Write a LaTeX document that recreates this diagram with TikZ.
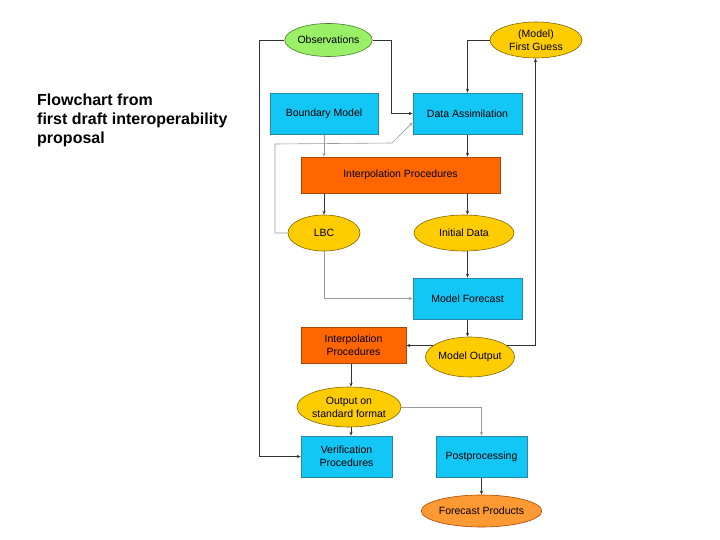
\documentclass[tikz,border=0pt]{standalone}
\usepackage{fontspec}
\setmainfont{Liberation Sans}
\usetikzlibrary{shapes.geometric,arrows.meta,backgrounds,calc}
\definecolor{cyanbox}{HTML}{12C6F5}
\definecolor{cyanedge}{HTML}{2A86A8}
\definecolor{orbox}{HTML}{FF6600}
\definecolor{oredge}{HTML}{A84800}
\definecolor{yelbox}{HTML}{FFCC00}
\definecolor{yeledge}{HTML}{806600}
\definecolor{grnbox}{HTML}{99F066}
\definecolor{grnedge}{HTML}{4A7A33}
\definecolor{ltor}{HTML}{FF9933}
\definecolor{dkline}{HTML}{333333}
\definecolor{gyline}{HTML}{9A9A9A}
\tikzset{
  lbl/.style={font=\fontsize{10.5}{13}\selectfont, align=center, inner sep=0pt},
  bluebox/.style={lbl, rectangle, fill=cyanbox, draw=cyanedge, line width=0.6pt},
  orangebox/.style={lbl, rectangle, fill=orbox, draw=oredge, line width=0.6pt},
  yellipse/.style={lbl, ellipse, fill=yelbox, draw=yeledge, line width=0.6pt},
  gellipse/.style={lbl, ellipse, fill=grnbox, draw=grnedge, line width=0.6pt},
  oellipse/.style={lbl, ellipse, fill=ltor, draw=oredge, line width=0.6pt},
  dk/.style={draw=dkline, line width=0.8pt},
  gy/.style={draw=gyline, line width=0.6pt},
  tip/.style={-{Stealth[length=4pt,width=3.2pt]}}
}
\begin{document}
\begin{tikzpicture}[x=1pt,y=-1pt]
\useasboundingbox (0,0) rectangle (720,540);

\node[anchor=north west, inner sep=0pt, align=left,
      font=\fontsize{16}{19}\selectfont\bfseries] (title) at (37,94)
  {Flowchart from\\first draft interoperability\\proposal};

% nodes
\node[gellipse, minimum width=83pt, minimum height=33pt] (obs) at (328.5,40) {Observations};
\node[yellipse, minimum width=92pt, minimum height=36pt] (fg) at (536,40) {(Model)\\First Guess};
\node[bluebox, minimum width=108pt, minimum height=41pt] (bm) at (324,113.5) {Boundary Model};
\node[bluebox, minimum width=109pt, minimum height=41pt] (da) at (467.5,113.5) {Data Assimilation};
\node[orangebox, minimum width=199pt, minimum height=36pt] (ip1) at (400.5,175) {Interpolation Procedures};
\node[yellipse, minimum width=72pt, minimum height=36pt] (lbc) at (324,233) {LBC};
\node[yellipse, minimum width=100pt, minimum height=36pt] (init) at (464,233) {Initial Data};
\node[bluebox, minimum width=109pt, minimum height=41pt] (mf) at (467.5,298.5) {Model Forecast};
\node[orangebox, minimum width=105pt, minimum height=36pt] (ip2) at (353.5,345.5) {Interpolation\\Procedures};
\node[yellipse, minimum width=86pt, minimum height=40pt] (mo) at (470,357) {Model Output};
\node[yellipse, minimum width=86pt, minimum height=40pt] (out) at (349,407) {Output on\\standard format};
\node[bluebox, minimum width=91pt, minimum height=41pt] (ver) at (346.5,456.5) {Verification\\Procedures};
\node[bluebox, minimum width=91pt, minimum height=41pt] (pp) at (481.5,456.5) {Postprocessing};
\node[oellipse, minimum width=117pt, minimum height=32pt] (fp) at (481.5,511) {Forecast Products};

\coordinate (xl) at (259,0);
\coordinate (xo) at (391,0);
\coordinate (xr) at (535.5,0);
\coordinate (xa) at (351,0);
\coordinate (lp) at (275,144);
\coordinate (kink) at (392,143);

\begin{scope}[on background layer]
% observations
\draw[dk,tip] (obs.west) -- (obs.west -| xl) |- (ver.west);
\draw[dk,tip] (obs.east) -- (obs.east -| xo) |- (da.west);
% first guess
\draw[dk,tip] (fg.west) -| (da.north);
% into interpolation 1
\draw[gy,tip] (bm.south) -- (bm.south |- ip1.north);
\draw[dk,tip] (da.south) -- (da.south |- ip1.north);
% out of interpolation 1
\draw[dk,tip] (lbc.north |- ip1.south) -- (lbc.north);
\draw[dk,tip] (da.south |- ip1.south) -- (da.south |- init.north);
% LBC loop to data assimilation
\draw[gy,tip] (lbc.west) -| (lp) -- (kink) -- ($(da.west)+(0,9)$);
% LBC to model forecast
\draw[gy,tip] (lbc.south) |- (mf.west);
% initial data to model forecast
\draw[dk,tip] (da.south |- init.south) -- (mf.north);
% model forecast to model output
\draw[dk,tip] (mf.south) -- (mf.south |- mo.north);
% model output to interpolation 2 and first guess
\draw[dk,tip] (ip2.east -| xr) -- (ip2.east);
\draw[dk,tip] (ip2.east -| xr) -- (fg.south -| xr);
% interpolation 2 to output
\draw[dk,tip] (ip2.south -| xa) -- (out.north -| xa);
\draw[dk,tip] (out.south -| xa) -- (ver.north -| xa);
% output to postprocessing
\draw[gy,tip] (out.east) -| (pp.north);
% postprocessing to forecast products
\draw[dk,tip] (pp.south) -- (fp.north);
\end{scope}
\end{tikzpicture}
\end{document}
